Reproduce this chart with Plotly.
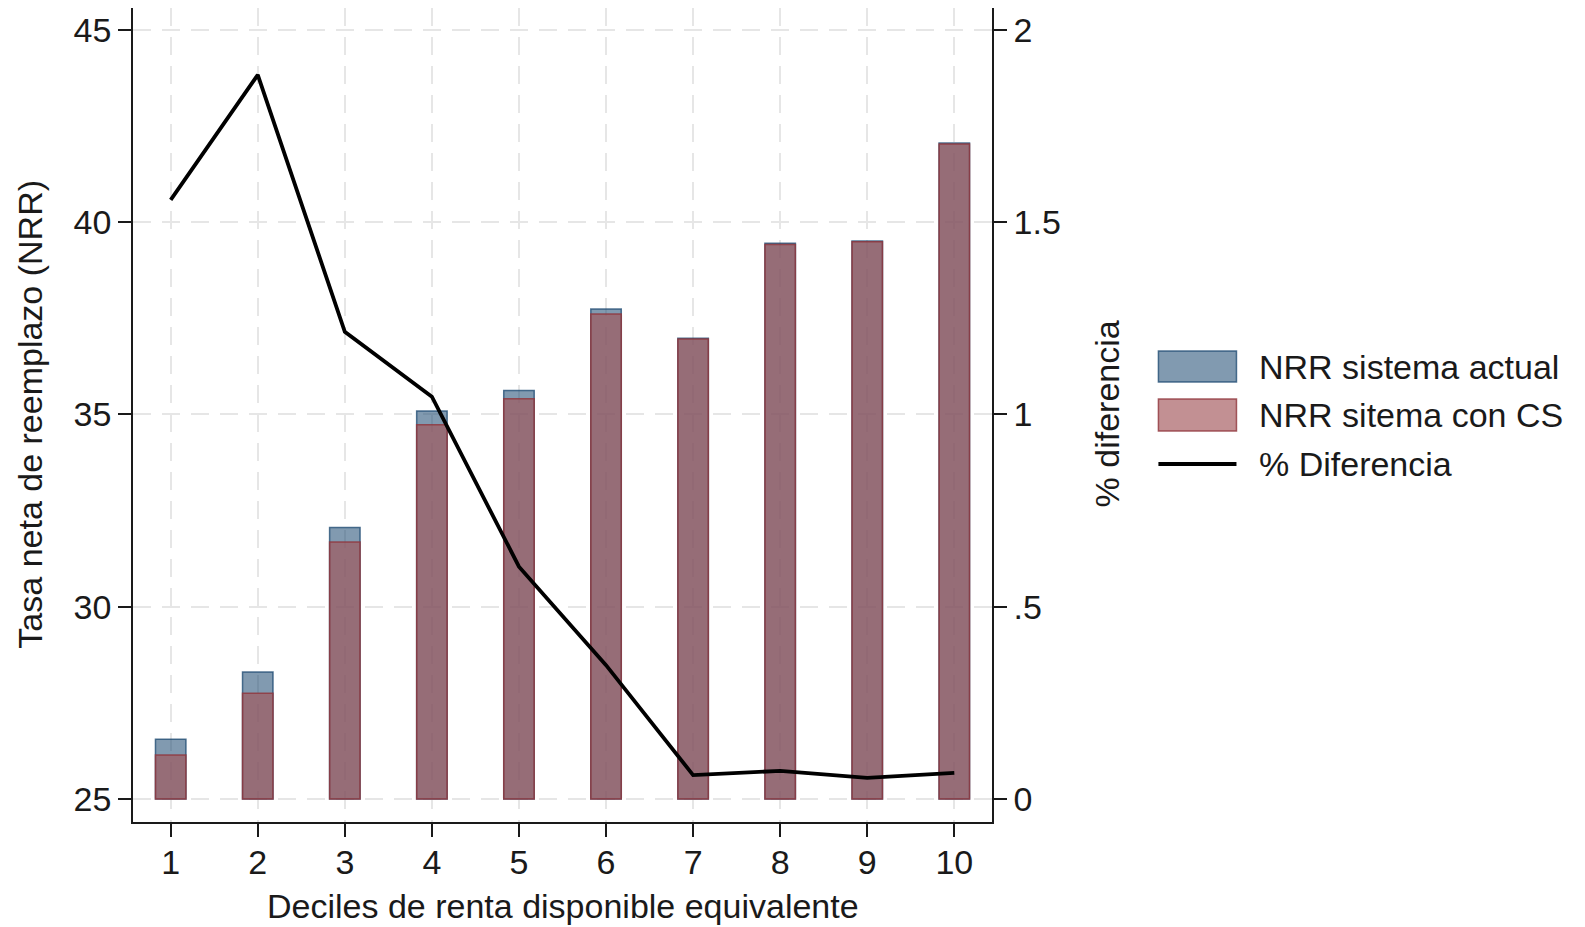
import plotly.graph_objects as go

# Deciles of equivalised disposable income
deciles = [1, 2, 3, 4, 5, 6, 7, 8, 9, 10]

# Net replacement rate, current system
nrr_actual = [26.55, 28.30, 32.06, 35.09, 35.62, 37.74, 36.98, 39.45, 39.51, 42.06]
# Net replacement rate, system with CS
nrr_cs = [26.14, 27.75, 31.68, 34.73, 35.41, 37.61, 36.96, 39.42, 39.49, 42.03]
# Percentage difference (right axis)
pct_diff = [1.558, 1.883, 1.215, 1.046, 0.604, 0.348, 0.062, 0.073, 0.055, 0.068]

left_ticks = [25, 30, 35, 40, 45]
right_ticks = [0, 0.5, 1, 1.5, 2]
right_ticktext = ["0", ".5", "1", "1.5", "2"]

BASE = 25
W, H = 1585, 927
PL, PR, PT, PB = 133.3, 991.7, 8, 822  # plot area in pixels

FONT = "Liberation Sans, Arial, sans-serif"
FS = 34
INK = "#1a1a1a"
GRID = "#e6e6e6"

navy_fill = "rgba(26,71,111,0.55)"
navy_line = "rgba(26,71,111,0.75)"
maroon_fill = "rgba(161,85,89,0.65)"
maroon_line = "rgba(144,53,59,0.8)"


def px_x(x):
    return (x - PL) / (PR - PL)


def px_y(y):
    return (PB - y) / (PB - PT)


fig = go.Figure()

fig.add_trace(go.Bar(
    x=deciles, y=[v - BASE for v in nrr_actual], base=BASE, width=0.35,
    marker=dict(color=navy_fill, line=dict(color=navy_line, width=1.5)),
    name="NRR sistema actual", showlegend=False,
))
fig.add_trace(go.Bar(
    x=deciles, y=[v - BASE for v in nrr_cs], base=BASE, width=0.35,
    marker=dict(color=maroon_fill, line=dict(color=maroon_line, width=1.5)),
    name="NRR sitema con CS", showlegend=False,
))
fig.add_trace(go.Scatter(
    x=deciles, y=pct_diff, yaxis="y2", mode="lines",
    line=dict(color="black", width=3.8),
    name="% Diferencia", showlegend=False,
))

axis_common = dict(
    showline=True, linecolor=INK, linewidth=1.5,
    ticks="outside", ticklen=13, tickwidth=1.5, tickcolor=INK,
    tickfont=dict(family=FONT, size=FS, color=INK),
    zeroline=False,
)

fig.update_layout(
    width=W, height=H,
    margin=dict(l=PL, r=W - PR, t=PT, b=H - PB, pad=0),
    paper_bgcolor="white", plot_bgcolor="white",
    barmode="overlay",
    showlegend=False,
    font=dict(family=FONT, size=FS, color=INK),
    xaxis=dict(
        range=[0.567, 10.433], tickvals=deciles, ticklabelstandoff=-4,
        showgrid=True, gridcolor=GRID, gridwidth=1.5, griddash="18px,11px",
        **axis_common,
    ),
    yaxis=dict(
        range=[24.40, 45.57], tickvals=left_ticks,
        showgrid=True, gridcolor=GRID, gridwidth=1.5, griddash="18px,11px",
        **axis_common,
    ),
    yaxis2=dict(
        range=[-0.060, 2.057], tickvals=right_ticks, ticktext=right_ticktext,
        overlaying="y", side="right", showgrid=False,
        **axis_common,
    ),
)


def text_at(text, x, y, angle=0, xanchor="center"):
    fig.add_annotation(text=text, textangle=angle,
                       x=px_x(x), y=px_y(y), xref="paper", yref="paper",
                       xanchor=xanchor, yanchor="middle",
                       showarrow=False, font=dict(family=FONT, size=FS, color=INK))


# Axis titles
text_at("Tasa neta de reemplazo (NRR)", 30, 414, angle=-90)
text_at("% diferencia", 1107, 414, angle=-90)
text_at("Deciles de renta disponible equivalente", 563, 906)

# Legend
fig.add_shape(type="rect", xref="paper", yref="paper",
              x0=px_x(1158), x1=px_x(1236), y0=px_y(351), y1=px_y(382),
              fillcolor=navy_fill, line=dict(color=navy_line, width=1.5))
fig.add_shape(type="rect", xref="paper", yref="paper",
              x0=px_x(1158), x1=px_x(1236), y0=px_y(399), y1=px_y(431),
              fillcolor=maroon_fill, line=dict(color=maroon_line, width=1.5))
fig.add_shape(type="line", xref="paper", yref="paper",
              x0=px_x(1158), x1=px_x(1236), y0=px_y(464), y1=px_y(464),
              line=dict(color="black", width=4))
legend_items = ["NRR sistema actual", "NRR sitema con CS", "% Diferencia"]
for label, yc in zip(legend_items, [367, 415, 464]):
    text_at(label, 1257, yc, xanchor="left")

fig.write_html("out.html")
